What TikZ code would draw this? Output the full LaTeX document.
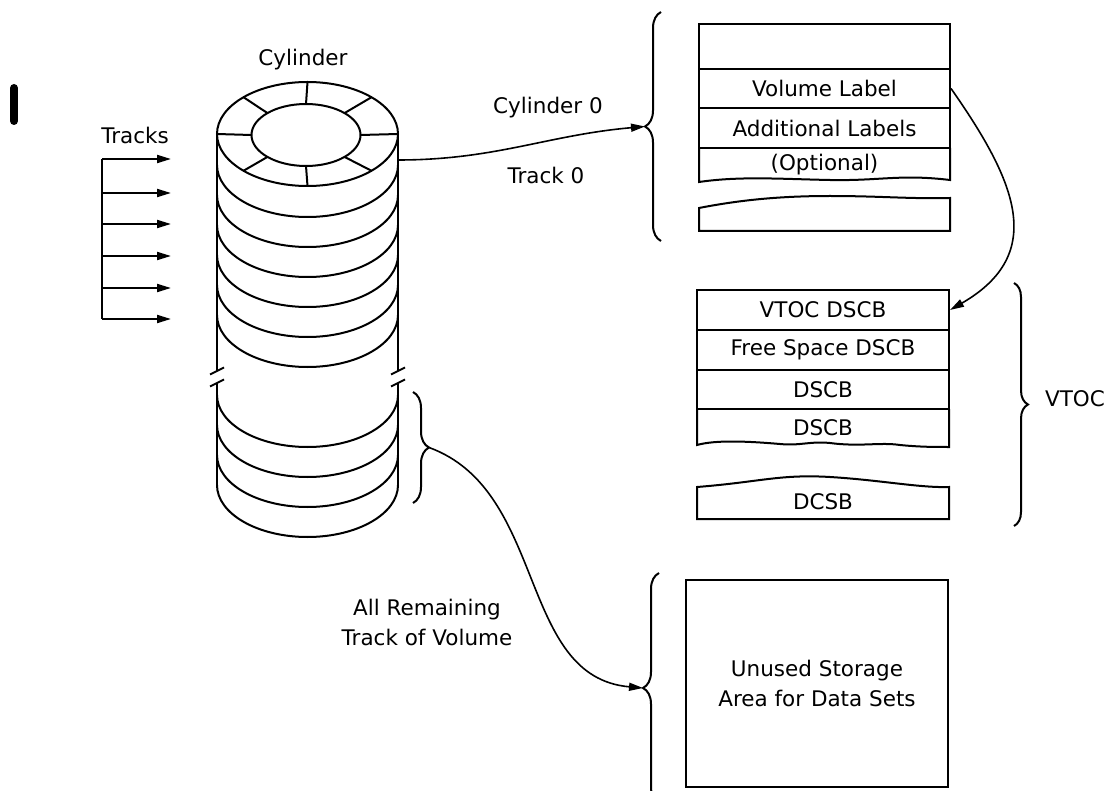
\documentclass[tikz,border=0pt]{standalone}
\usepackage{fontspec}
\setmainfont{DejaVu Sans}
\usetikzlibrary{arrows.meta,decorations.pathreplacing}

\tikzset{
  cell/.style={draw, minimum width=251pt, minimum height=40pt, inner sep=0pt},
  lbl/.style={font=\fontsize{21.5}{30}\selectfont, align=center, inner sep=0pt},
  tip/.style={-{Triangle[length=14pt,width=8pt]}},
  link/.style={tip, line width=1.6pt},
  curly/.style={decorate, decoration={brace, amplitude=#1}},
  curly/.default=16pt
}

\begin{document}
\begin{tikzpicture}[x=1pt, y=1pt, line width=2pt]
  \useasboundingbox (0,0) rectangle (1113,-791);

  % change bar
  \draw[line width=8pt, line cap=round] (14,-88) -- (14,-121);

  % tracks
  \node[lbl] (tracks) at (135,-135) {Tracks};
  \draw (102,-159) -- (102,-319);
  \foreach \y in {159,193,224,256,288,319}
    \draw[tip] (102,-\y) -- (171,-\y);

  % cylinder
  \node[lbl] (cyl) at (303,-60) {Cylinder};
  \draw (307.5,-134) ellipse [x radius=90.5, y radius=52];
  \draw (306,-135) ellipse [x radius=54.5, y radius=31];
  \foreach \a in {0,45,...,315}
    \draw ([shift={(\a:54.5 and 31)}]306,-135) -- ([shift={(\a:90.5 and 52)}]307.5,-134);
  \foreach \x in {217,398} {
    \draw (\x,-134) -- (\x,-371) (\x,-383) -- (\x,-485);
    \draw (\x-7,-374.5) -- (\x+7,-367.5);
    \draw (\x-7,-386.5) -- (\x+7,-379.5);
  }
  \foreach \b in {217,247,277,307,337,367,447,477,507,537}
    \draw (217,-\b+52) arc[start angle=180, end angle=360, x radius=90.5, y radius=52];

  % braces
  \draw[curly] (661,-241) -- (661,-12);
  \draw[curly=14pt] (1014,-283) -- (1014,-526);
  \draw[curly] (413,-392) -- (413,-503);
  \draw[curly] (659,-803) -- (659,-573);
  \coordinate (trk0) at (398,-160);
  \coordinate (capA) at (645,-126.5);
  \coordinate (restB) at (429,-447.5);
  \coordinate (dataB) at (643,-688);

  % volume label area
  \node[cell, minimum height=45pt] (hdr) at (824.5,-46.5) {};
  \node[cell, minimum height=39pt, lbl] (vol) at (824.5,-88.5) {Volume Label};
  \node[cell, lbl] (addl) at (824.5,-128) {Additional Labels};
  \draw (699,-148) -- (699,-182) .. controls (740,-176) and (780,-179) .. (830,-180)
    .. controls (880,-181) and (900,-174) .. (950,-180) -- (950,-148);
  \node[lbl] (opt) at (824.5,-165) {(Optional)};
  \draw (699,-208) .. controls (740,-200) and (780,-196) .. (830,-196)
    .. controls (880,-196) and (910,-199) .. (950,-198) -- (950,-231) -- (699,-231) -- cycle;

  % vtoc
  \node[cell, lbl, minimum width=252pt] (vtoc) at (823,-310) {VTOC DSCB};
  \node[cell, lbl, minimum width=252pt] (free) at (823,-350) {Free Space DSCB};
  \node[cell, lbl, minimum width=252pt, minimum height=39pt] (dscbA) at (823,-389.5) {DSCB};
  \draw (697,-409) -- (697,-445) .. controls (715,-440) and (745,-441) .. (780,-444)
    .. controls (800,-446) and (810,-441) .. (830,-443)
    .. controls (860,-447) and (880,-442) .. (900,-445)
    .. controls (920,-447) and (935,-447) .. (949,-447) -- (949,-409);
  \node[lbl] (dscbB) at (823,-428) {DSCB};
  \draw (697,-487) .. controls (760,-482) and (780,-474) .. (830,-477)
    .. controls (880,-480) and (920,-488) .. (949,-487) -- (949,-519) -- (697,-519) -- cycle;
  \node[lbl] (dcsb) at (823,-502) {DCSB};
  \node[lbl] (vtocl) at (1075,-399) {VTOC};

  % free storage
  \node[draw, lbl, minimum width=262pt, minimum height=207pt] (unused) at (817,-683.5)
    {Unused Storage\\Area for Data Sets};

  % connectors
  \node[lbl] (cyl0) at (548,-108) {Cylinder 0};
  \node[lbl] (trk0l) at (546,-175) {Track 0};
  \draw[link] (trk0) to[out=0, in=185] (capA);
  \draw[link] (vol.east) to[out=-55, in=30, looseness=1.3] (vtoc.east);
  \node[lbl] (rest) at (427,-622) {All Remaining\\Track of Volume};
  \draw[link] (restB) to[out=-20, in=175] (dataB);
\end{tikzpicture}
\end{document}
